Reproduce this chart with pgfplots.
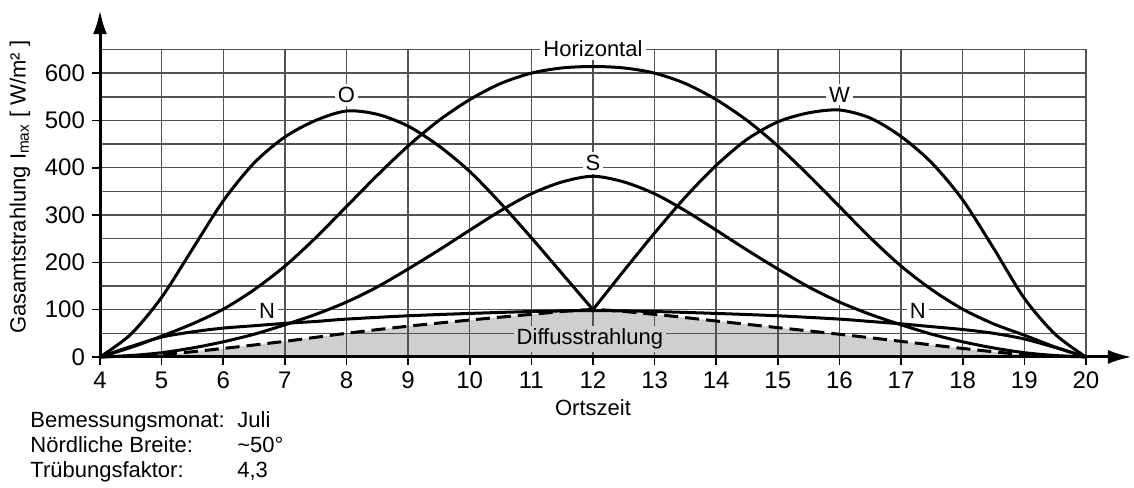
\documentclass[border=0pt]{standalone}
\usepackage{fontspec}
\setmainfont{Liberation Sans}
\usepackage{pgfplots}
\pgfplotsset{compat=1.18}
\usetikzlibrary{arrows.meta}

\pgfplotstableread{
x y
4 0
4.5 20
5 44
5.5 70
6 101
6.5 142
7 192
7.5 252
8 318
8.5 384
9 446
9.5 500
10 544
10.5 578
11 600
11.5 611
12 614
12.5 611
13 600
13.5 578
14 544
14.5 500
15 446
15.5 384
16 318
16.5 252
17 192
17.5 142
18 101
18.5 70
19 46
19.5 21
20 0
}\horiz

\pgfplotstableread{
x y
4 0
4.5 48
5 126
5.5 228
6 330
6.5 410
7 465
7.5 500
8 520
8.5 513
9 488
9.5 446
10 392
10.5 325
11 252
11.5 176
12 100
}\ost

\pgfplotstableread{
x y
12 100
12.5 182
13 262
13.5 338
14 405
14.5 460
15 497
15.5 516
16 522
16.5 505
17 466
17.5 410
18 332
18.5 230
19 124
19.5 48
20 0
}\west

\pgfplotstableread{
x y
4 0
4.5 3
5 9
5.5 19
6 32
6.5 48
7 68
7.5 90
8 116
8.5 148
9 186
9.5 226
10 268
10.5 309
11 345
11.5 370
12 382
12.5 370
13 345
13.5 309
14 268
14.5 226
15 186
15.5 148
16 116
16.5 90
17 68
17.5 48
18 32
18.5 19
19 9
19.5 3
20 0
}\sued

\pgfplotstableread{
x y
4 0
4.5 22
5 42
5.5 53
6 61
6.5 66
7 71
7.5 75
8 80
9 87
10 92
11 96
12 98
13 96
14 92
15 87
16 80
16.5 75
17 70
17.5 64
18 58
18.5 50
19 38
19.5 20
20 0
}\nord

\pgfplotstableread{
x y
4 0
5 5
6 18
7 33
8 50
9 65
10 78
11 90
12 100
13 90
14 76
15 62
16 48
17 33
18 18
19 5
20 0
}\diffus

\begin{document}
\begin{tikzpicture}[font=\fontsize{11}{13}\selectfont]
\begin{axis}[
  set layers,
  scale only axis,
  width=493pt, height=153.75pt,
  xmin=4, xmax=20, ymin=0, ymax=650,
  axis lines=left,
  axis line style={draw=none},
  xtick={4,...,20},
  ytick={0,100,...,600},
  minor ytick={50,150,...,650},
  grid=both,
  major grid style={draw=black!68, line width=0.75pt},
  minor grid style={draw=black!68, line width=0.75pt},
  tick align=outside,
  major tick length=4pt,
  minor tick length=0pt,
  tick style={black, line width=0.8pt},
  ticklabel style={font=\fontsize{12}{14}\selectfont},
  /pgf/number format/assume math mode=true,
  clip=false,
]
% bounding box
\path (axis cs:2.377,-276.9) rectangle (axis cs:20.78,754.6);

\addplot[on layer=axis background, fill=black!19, draw=none, smooth] table {\diffus} \closedcycle;

\addplot[black, line width=1.5pt, dash pattern=on 7pt off 3.5pt, smooth] table {\diffus};
\addplot[black, line width=1.5pt, smooth] table {\nord};
\addplot[black, line width=1.5pt, smooth] table {\sued};
\addplot[black, line width=1.5pt, smooth] table {\horiz};
\addplot[black, line width=1.5pt, smooth] table {\ost};
\addplot[black, line width=1.5pt, smooth] table {\west};

% axes with arrows
\draw[black, line width=1.5pt, -{Latex[length=12pt,width=7pt]}] (axis cs:4,0) -- (axis cs:4,733);
\draw[black, line width=1.5pt, -{Latex[length=12pt,width=7pt]}] (axis cs:4,0) -- (axis cs:20.746,0);

% curve labels
\node[fill=white, inner sep=1.5pt] at (axis cs:8,554) {O};
\node[fill=white, inner sep=1.5pt] at (axis cs:16,554) {W};
\node[fill=white, inner sep=1.5pt] at (axis cs:12,410) {S};
\node[fill=white, inner sep=1.5pt] at (axis cs:12,652) {Horizontal};
\node[fill=white, inner sep=1.5pt] at (axis cs:6.71,97) {N};
\node[fill=white, inner sep=1.5pt] at (axis cs:17.27,97) {N};
\node[fill=black!19, inner sep=1.5pt] at (axis cs:11.95,38) {Diffusstrahlung};

% axis titles
\node[rotate=90] at (axis cs:2.70,359) {Gasamtstrahlung I\textsubscript{max} [ W/m² ]};
\node at (axis cs:12,-108) {Ortszeit};

% bottom info
\node[anchor=base west, inner sep=0pt] at (axis cs:2.864,-150) {Bemessungsmonat:};
\node[anchor=base west, inner sep=0pt] at (axis cs:6.223,-150) {Juli};
\node[anchor=base west, inner sep=0pt] at (axis cs:2.864,-203) {Nördliche Breite:};
\node[anchor=base west, inner sep=0pt] at (axis cs:6.223,-203) {\char"007E 50°};
\node[anchor=base west, inner sep=0pt] at (axis cs:2.864,-254) {Trübungsfaktor:};
\node[anchor=base west, inner sep=0pt] at (axis cs:6.223,-254) {4,3};
\end{axis}
\end{tikzpicture}
\end{document}
